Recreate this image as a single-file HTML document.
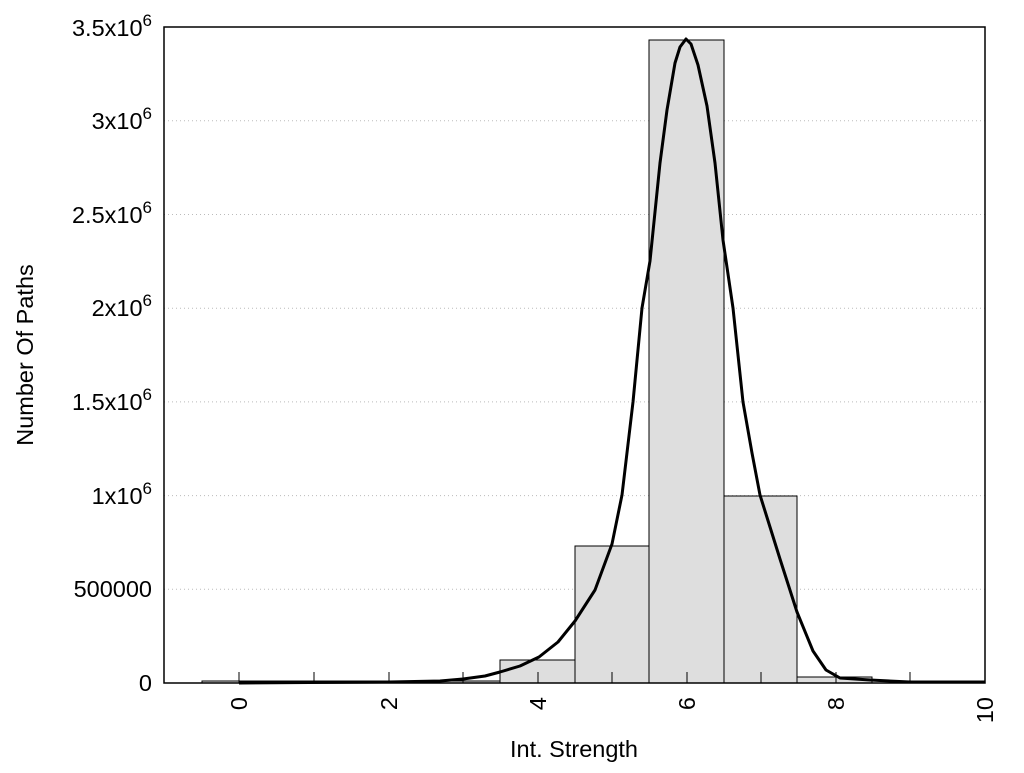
<!DOCTYPE html>
<html><head><style>body{margin:0;background:#fff}</style></head><body>
<svg width="1024" height="768" xmlns="http://www.w3.org/2000/svg" font-family="Liberation Sans, sans-serif" font-size="23.5">
<rect width="1024" height="768" fill="#fff"/>
<g stroke="#bbb" stroke-dasharray="1,3" stroke-width="1">
<line x1="164" x2="985" y1="589.3" y2="589.3"/><line x1="164" x2="985" y1="495.6" y2="495.6"/>
<line x1="164" x2="985" y1="401.9" y2="401.9"/><line x1="164" x2="985" y1="308.2" y2="308.2"/>
<line x1="164" x2="985" y1="214.5" y2="214.5"/><line x1="164" x2="985" y1="120.8" y2="120.8"/>
</g>
<g fill="#dedede" stroke="#000" stroke-width="1">
<rect x="202" y="681" width="298" height="2"/>
<rect x="500" y="660" width="75" height="23"/>
<rect x="575" y="546" width="74" height="137"/>
<rect x="649" y="40" width="75" height="643"/>
<rect x="724" y="496" width="73" height="187"/>
<rect x="797" y="677" width="75" height="6"/>
</g>
<g stroke="#000" stroke-width="1">
<line x1="239" y1="683" x2="239" y2="672"/><line x1="314" y1="683" x2="314" y2="672"/>
<line x1="389" y1="683" x2="389" y2="672"/><line x1="463" y1="683" x2="463" y2="672"/>
<line x1="538" y1="683" x2="538" y2="672"/><line x1="612" y1="683" x2="612" y2="672"/>
<line x1="687" y1="683" x2="687" y2="672"/><line x1="761" y1="683" x2="761" y2="672"/>
<line x1="836" y1="683" x2="836" y2="672"/><line x1="910" y1="683" x2="910" y2="672"/>
</g>
<polyline fill="none" stroke="#000" stroke-width="3" stroke-linejoin="round" points="239,683 389,682 440,681 463,679 485,676 500,672 520,666 539,657 558,642 575,621 595,590 612,544 622,495 633,402 642,308 650,261 660,163 667,110 675,63 680,47 686,39 691,44 698,65 707,106 715,163 723,240 733,308 743,402 752,453 760,495 770,527 780,559 797,612 813,651 826,670 840,678 870,680 910,682 985,682"/>
<rect x="164" y="27" width="821" height="656" fill="none" stroke="#000" stroke-width="1.5"/>
<g text-anchor="end">
<text x="152" y="691">0</text>
<text x="152" y="597">500000</text>
<text x="152" y="504">1x10<tspan font-size="17" dy="-10">6</tspan></text>
<text x="152" y="410">1.5x10<tspan font-size="17" dy="-10">6</tspan></text>
<text x="152" y="316">2x10<tspan font-size="17" dy="-10">6</tspan></text>
<text x="152" y="223">2.5x10<tspan font-size="17" dy="-10">6</tspan></text>
<text x="152" y="129">3x10<tspan font-size="17" dy="-10">6</tspan></text>
<text x="152" y="36">3.5x10<tspan font-size="17" dy="-10">6</tspan></text>
</g>
<g text-anchor="end">
<text transform="translate(247,697) rotate(-90)">0</text>
<text transform="translate(397,697) rotate(-90)">2</text>
<text transform="translate(546,697) rotate(-90)">4</text>
<text transform="translate(695,697) rotate(-90)">6</text>
<text transform="translate(844,697) rotate(-90)">8</text>
<text transform="translate(993,697) rotate(-90)">10</text>
</g>
<text x="574" y="757" text-anchor="middle">Int. Strength</text>
<text transform="translate(33,355) rotate(-90)" text-anchor="middle">Number Of Paths</text>
</svg>
</body></html>
